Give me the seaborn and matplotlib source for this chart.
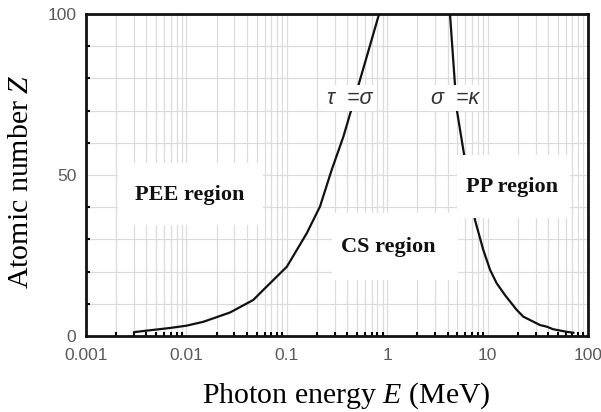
import matplotlib
matplotlib.use("Agg")
import matplotlib.pyplot as plt
import seaborn as sns
import numpy as np
import pandas as pd
from matplotlib.ticker import FixedLocator, LogLocator, MultipleLocator, NullFormatter
from matplotlib.patches import Rectangle

# Data
tau_sigma_E = [0.003, 0.0069, 0.01, 0.0147, 0.0272, 0.0464, 0.0583, 0.1, 0.158, 0.214, 0.28, 0.366, 0.443, 0.625, 0.83]
tau_sigma_Z = [1.2, 2.5, 3.2, 4.4, 7.3, 11.2, 14.3, 21.5, 31.9, 40.2, 51.6, 61.9, 70.7, 86.7, 100]
sigma_kappa_E = [4.22, 4.92, 5.73, 7.49, 9.06, 10.6, 12.3, 14.9, 19.5, 22.7, 33.3, 38.8, 45.0, 61.4, 72.0]
sigma_kappa_Z = [100, 70.5, 57.8, 36, 26.7, 20.5, 16.4, 12.7, 8.1, 6.0, 3.4, 2.9, 2.1, 1.3, 1.0]
x_ticks = [0.001, 0.01, 0.1, 1, 10, 100]
x_tick_labels = ["0.001", "0.01", "0.1", "1", "10", "100"]
y_ticks = [0, 50, 100]
y_tick_labels = ["0", "50", "100"]
curve_labels = ["\u03c4  =\u03c3", "\u03c3  =\u03ba"]
region_labels = ["PEE region", "CS region", "PP region"]

sns.set_theme(style="white")
plt.rcParams["font.family"] = ["Liberation Serif", "DejaVu Serif"]
plt.rcParams["mathtext.fontset"] = "custom"
plt.rcParams["mathtext.it"] = "Liberation Serif:italic"
plt.rcParams["mathtext.rm"] = "Liberation Serif"

df1 = pd.DataFrame({"E": tau_sigma_E, "Z": tau_sigma_Z})
df2 = pd.DataFrame({"E": sigma_kappa_E, "Z": sigma_kappa_Z})

fig = plt.figure(figsize=(6.01, 4.12), dpi=100)
ax = fig.add_axes([86 / 601, 1 - 336 / 412, (588 - 86) / 601, (336 - 14) / 412])
ax.set_xscale("log")
ax.set_xlim(0.001, 100)
ax.set_ylim(0, 100)

ax.xaxis.set_major_locator(FixedLocator(x_ticks))
ax.xaxis.set_minor_locator(LogLocator(base=10, subs=np.arange(2, 10)))
ax.xaxis.set_minor_formatter(NullFormatter())
ax.yaxis.set_major_locator(FixedLocator(y_ticks))
ax.yaxis.set_minor_locator(MultipleLocator(10))
ax.grid(True, which="both", color="#dcdcdc", lw=0.9, zorder=0)
ax.set_axisbelow(True)

sns.lineplot(data=df1, x="E", y="Z", sort=False, color="#111111", lw=1.6, ax=ax, zorder=3)
sns.lineplot(data=df2, x="E", y="Z", sort=False, color="#111111", lw=1.6, ax=ax, zorder=3)

ax.set_xticks(x_ticks)
ax.set_xticklabels(x_tick_labels)
ax.set_yticks(y_ticks)
ax.set_yticklabels(y_tick_labels)

for lab in ax.get_xticklabels() + ax.get_yticklabels():
    lab.set_family(["Liberation Sans", "DejaVu Sans"])
    lab.set_fontsize(12.5)
    lab.set_color("#5a5a5a")

ax.tick_params(which="both", direction="in", length=3, width=1.5, color="black",
               bottom=True, left=True, top=False, right=False)
ax.tick_params(which="major", length=0)
ax.tick_params(axis="x", which="major", pad=9)
ax.tick_params(axis="y", which="major", pad=7)

for s in ax.spines.values():
    s.set_color("#111111")
    s.set_linewidth(2)

ax.set_xlabel("Photon energy $\\mathit{E}$ (MeV)", fontsize=21.5, color="black")
ax.set_ylabel("Atomic number $\\mathit{Z}$", fontsize=21.5, color="black")
ax.xaxis.set_label_coords((346 - 86) / 502, (336 - 380) / 322)
ax.yaxis.set_label_coords((34 - 86) / 502, (336 - 182) / 322)

def px_to_data(px, py):
    return ax.transData.inverted().transform((px, 412 - py))

fig.canvas.draw()

for lab, (px, py) in zip(curve_labels, [(350, 98), (455, 98)]):
    x, y = px_to_data(px, py)
    ax.text(x, y, lab, fontsize=15.5, style="italic", color="#333333", ha="center", va="center",
            family=["Liberation Sans", "DejaVu Sans"],
            zorder=5, bbox=dict(facecolor="white", edgecolor="none", pad=2))

boxes = [(118, 163, 263, 225), (332, 213, 458, 280), (457, 155, 570, 218)]
centers = [(190, 195), (388, 247), (512, 187)]
for lab, (x0, y0, x1, y1), (cx, cy) in zip(region_labels, boxes, centers):
    fig.patches.append(Rectangle((x0 / 601, 1 - y1 / 412), (x1 - x0) / 601, (y1 - y0) / 412,
                                 transform=fig.transFigure, facecolor="white", edgecolor="none",
                                 zorder=4))
    fig.text(cx / 601, 1 - cy / 412, lab, fontsize=16, fontweight="bold", color="#111111",
             ha="center", va="center", zorder=6)

fig.savefig("out.png", dpi=100)
